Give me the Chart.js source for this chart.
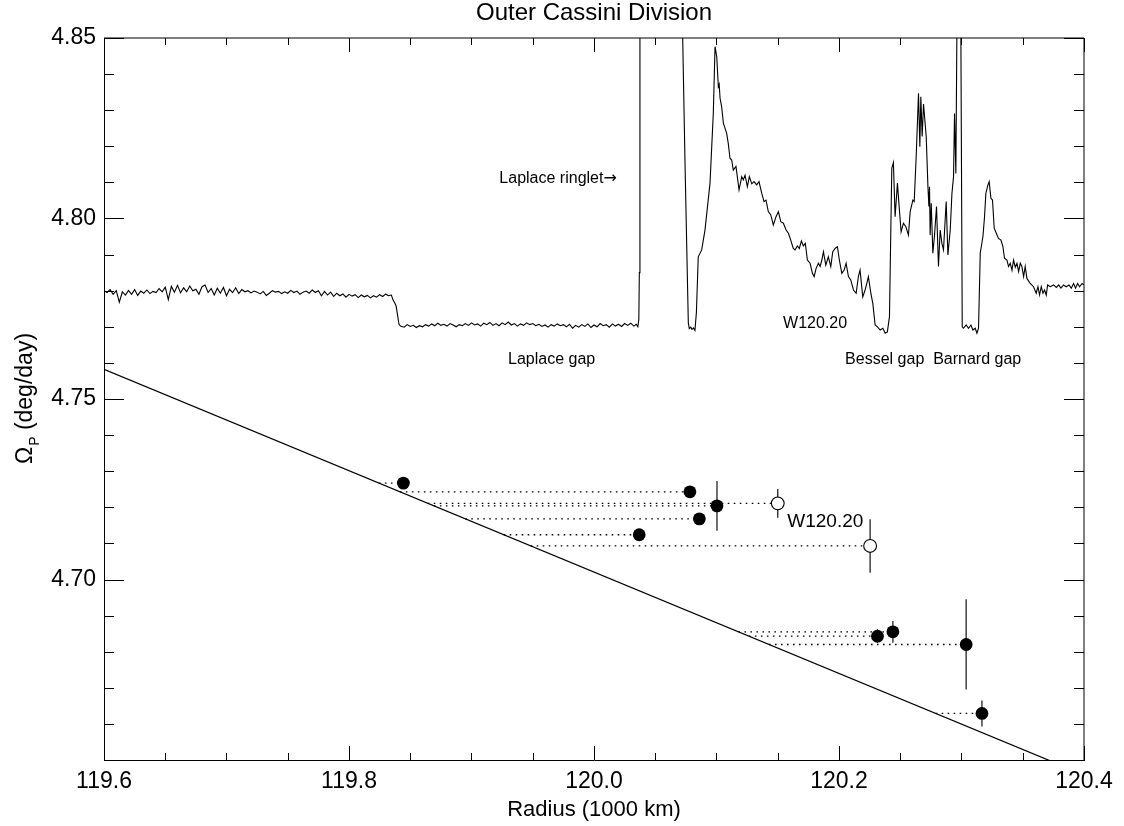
<!DOCTYPE html>
<html><head><meta charset="utf-8">
<script src="https://cdn.jsdelivr.net/npm/chart.js@4.4.1/dist/chart.umd.min.js"></script>
<style>html,body{margin:0;padding:0;background:#fff;}#wrap{width:1124px;height:826px;}</style>
</head><body><div id="wrap"><canvas id="c" width="1124" height="826"></canvas></div>
<script>
// ---------- data ----------
const xTicks = [119.6, 119.8, 120.0, 120.2, 120.4];
const yTicks = [4.70, 4.75, 4.80, 4.85];

// model pattern speed line (Omega_P vs radius)
const modelR = [119.6, 120.4];
const modelOmega = [4.7582, 4.6459];

// measured waves (filled)
const waveR     = [119.8444, 120.0783, 120.1004, 120.0860, 120.0369, 120.2314, 120.2440, 120.3038, 120.3167];
const waveOmega = [4.7267,   4.7243,   4.7204,   4.7168,   4.7124,   4.6843,   4.6855,   4.6820,   4.6629];
const waveErr   = [0.0010,   0.0010,   0.0069,   0.0010,   0.0010,   0.0019,   0.0030,   0.0125,   0.0036];

// W120.20 (open)
const w12020R     = [120.1500, 120.2254];
const w12020Omega = [4.7211,   4.7093];
const w12020Err   = [0.0040,   0.0074];

// optical-depth profile (scaled into plot units)
const profileSamples = [
[119.6000,4.7800],[119.6025,4.7795],[119.6050,4.7803],[119.6075,4.7790],[119.6100,4.7800],[119.6125,4.7768],
[119.6150,4.7797],[119.6175,4.7788],[119.6200,4.7801],[119.6225,4.7790],[119.6250,4.7803],[119.6275,4.7787],
[119.6300,4.7799],[119.6325,4.7793],[119.6350,4.7802],[119.6375,4.7792],[119.6400,4.7798],[119.6425,4.7795],
[119.6450,4.7806],[119.6475,4.7797],[119.6500,4.7810],[119.6525,4.7775],[119.6550,4.7812],[119.6575,4.7796],
[119.6600,4.7815],[119.6625,4.7794],[119.6650,4.7808],[119.6675,4.7797],[119.6700,4.7813],[119.6725,4.7800],
[119.6750,4.7804],[119.6775,4.7790],[119.6800,4.7811],[119.6825,4.7816],[119.6850,4.7795],[119.6875,4.7806],
[119.6900,4.7788],[119.6925,4.7807],[119.6950,4.7793],[119.6975,4.7809],[119.7000,4.7786],[119.7025,4.7804],
[119.7050,4.7795],[119.7075,4.7808],[119.7100,4.7792],[119.7125,4.7803],[119.7150,4.7797],[119.7175,4.7800],
[119.7200,4.7794],[119.7225,4.7799],[119.7250,4.7796],[119.7275,4.7791],[119.7300,4.7798],[119.7325,4.7787],
[119.7350,4.7793],[119.7375,4.7800],[119.7400,4.7796],[119.7425,4.7798],[119.7450,4.7792],[119.7475,4.7797],
[119.7500,4.7793],[119.7525,4.7801],[119.7550,4.7795],[119.7575,4.7799],[119.7600,4.7790],[119.7625,4.7796],
[119.7650,4.7799],[119.7675,4.7793],[119.7700,4.7802],[119.7725,4.7795],[119.7750,4.7800],[119.7775,4.7786],
[119.7800,4.7798],[119.7825,4.7788],[119.7850,4.7796],[119.7875,4.7784],[119.7900,4.7793],[119.7925,4.7786],
[119.7950,4.7791],[119.7975,4.7782],[119.8000,4.7790],[119.8025,4.7785],[119.8050,4.7789],[119.8075,4.7781],
[119.8100,4.7788],[119.8125,4.7783],[119.8150,4.7787],[119.8175,4.7780],[119.8200,4.7786],[119.8225,4.7782],
[119.8250,4.7789],[119.8275,4.7784],[119.8300,4.7791],[119.8320,4.7786],[119.8346,4.7788],[119.8360,4.7774],
[119.8375,4.7765],[119.8385,4.7757],[119.8395,4.7735],[119.8408,4.7707],[119.8420,4.7702],
[119.8450,4.7699],[119.8475,4.7706],[119.8500,4.7701],[119.8525,4.7704],[119.8550,4.7698],[119.8575,4.7703],
[119.8600,4.7700],[119.8625,4.7706],[119.8650,4.7702],[119.8675,4.7708],[119.8700,4.7703],[119.8725,4.7710],
[119.8750,4.7704],[119.8775,4.7707],[119.8800,4.7702],[119.8825,4.7709],[119.8850,4.7705],[119.8875,4.7700],
[119.8900,4.7706],[119.8925,4.7703],[119.8950,4.7709],[119.8975,4.7704],[119.9000,4.7711],[119.9025,4.7705],
[119.9050,4.7708],[119.9075,4.7702],[119.9100,4.7710],[119.9125,4.7706],[119.9150,4.7712],[119.9175,4.7704],
[119.9200,4.7709],[119.9225,4.7703],[119.9250,4.7711],[119.9275,4.7706],[119.9300,4.7713],[119.9325,4.7705],
[119.9350,4.7709],[119.9375,4.7702],[119.9400,4.7708],[119.9425,4.7704],[119.9450,4.7711],[119.9475,4.7706],
[119.9500,4.7709],[119.9525,4.7703],[119.9550,4.7707],[119.9575,4.7701],[119.9600,4.7705],[119.9625,4.7699],
[119.9650,4.7706],[119.9675,4.7702],[119.9700,4.7708],[119.9725,4.7703],[119.9750,4.7706],[119.9775,4.7700],
[119.9800,4.7707],[119.9825,4.7696],[119.9850,4.7704],[119.9875,4.7699],[119.9900,4.7706],[119.9925,4.7701],
[119.9950,4.7708],[119.9975,4.7698],[120.0000,4.7705],[120.0025,4.7700],[120.0050,4.7709],[120.0075,4.7703],
[120.0100,4.7706],[120.0125,4.7699],[120.0150,4.7708],[120.0175,4.7702],[120.0200,4.7707],[120.0225,4.7701],
[120.0250,4.7709],[120.0275,4.7704],[120.0300,4.7710],[120.0325,4.7702],[120.0345,4.7707],[120.0358,4.7700],
[120.0366,4.7720],[120.0370,4.7850],[120.0375,4.8600],[120.0380,4.9000],[120.0718,4.9000],[120.0724,4.8500],
[120.0743,4.8153],[120.0770,4.7711],[120.0778,4.7695],[120.0790,4.7699],[120.0800,4.7693],[120.0812,4.7697],
[120.0824,4.7690],[120.0836,4.7740],[120.0851,4.7894],[120.0879,4.7913],[120.0906,4.7968],[120.0947,4.8098],
[120.0974,4.8292],[120.0988,4.8476],[120.1002,4.8448],[120.1015,4.8365],[120.1022,4.8372],[120.1029,4.8333],
[120.1042,4.8310],[120.1056,4.8264],[120.1083,4.8236],[120.1096,4.8208],[120.1110,4.8167],[120.1124,4.8162],
[120.1137,4.8134],[120.1159,4.8144],[120.1184,4.8079],[120.1206,4.8116],[120.1219,4.8107],[120.1233,4.8120],
[120.1252,4.8088],[120.1268,4.8116],[120.1288,4.8096],[120.1306,4.8102],[120.1328,4.8093],[120.1347,4.8102],
[120.1369,4.8070],[120.1388,4.8047],[120.1404,4.8051],[120.1423,4.8019],[120.1443,4.8010],[120.1464,4.7982],
[120.1486,4.8005],[120.1505,4.8019],[120.1525,4.7991],[120.1546,4.7987],[120.1568,4.7968],[120.1587,4.7959],
[120.1606,4.7940],[120.1627,4.7917],[120.1641,4.7913],[120.1660,4.7924],[120.1676,4.7917],[120.1693,4.7938],
[120.1709,4.7924],[120.1725,4.7931],[120.1742,4.7885],[120.1764,4.7876],[120.1783,4.7848],[120.1797,4.7839],
[120.1813,4.7862],[120.1832,4.7876],[120.1846,4.7867],[120.1860,4.7885],[120.1873,4.7908],[120.1892,4.7871],
[120.1913,4.7894],[120.1933,4.7867],[120.1949,4.7908],[120.1968,4.7917],[120.1987,4.7922],[120.2003,4.7885],
[120.2023,4.7848],[120.2042,4.7857],[120.2058,4.7876],[120.2077,4.7839],[120.2096,4.7830],[120.2118,4.7802],
[120.2140,4.7793],[120.2158,4.7839],[120.2172,4.7857],[120.2194,4.7783],[120.2213,4.7802],[120.2227,4.7820],
[120.2240,4.7839],[120.2260,4.7793],[120.2276,4.7765],[120.2295,4.7705],[120.2314,4.7700],[120.2336,4.7691],
[120.2358,4.7696],[120.2377,4.7682],[120.2395,4.7686],[120.2412,4.7728],[120.2423,4.7968],[120.2431,4.8139],
[120.2444,4.8155],[120.2458,4.8005],[120.2477,4.8098],[120.2493,4.8024],[120.2507,4.7963],[120.2526,4.7987],
[120.2546,4.7977],[120.2567,4.7954],[120.2581,4.8019],[120.2603,4.8051],[120.2614,4.8047],[120.2630,4.8171],
[120.2649,4.8347],[120.2660,4.8199],[120.2668,4.8337],[120.2679,4.8227],[120.2690,4.8317],[120.2712,4.8227],
[120.2726,4.8088],[120.2734,4.8033],[120.2739,4.8088],[120.2744,4.7954],[120.2753,4.8042],[120.2766,4.7904],
[120.2779,4.7950],[120.2796,4.8033],[120.2812,4.7867],[120.2826,4.7968],[120.2840,4.7931],[120.2853,4.7913],
[120.2875,4.8047],[120.2889,4.7899],[120.2908,4.7968],[120.2922,4.8070],[120.2935,4.8116],[120.2943,4.8291],
[120.2954,4.8125],[120.2962,4.8500],[120.2966,4.9000],[120.2992,4.9000],[120.2995,4.8500],[120.3006,4.7700],
[120.3016,4.7696],[120.3038,4.7705],[120.3057,4.7696],[120.3077,4.7705],[120.3093,4.7691],[120.3112,4.7696],
[120.3126,4.7682],[120.3139,4.7696],[120.3153,4.7904],[120.3175,4.7950],[120.3188,4.8005],[120.3199,4.8070],
[120.3216,4.8093],[120.3226,4.8102],[120.3240,4.8056],[120.3253,4.8051],[120.3267,4.7973],[120.3284,4.7959],
[120.3302,4.7945],[120.3322,4.7940],[120.3338,4.7922],[120.3351,4.7890],[120.3371,4.7885],[120.3384,4.7867],
[120.3398,4.7876],[120.3412,4.7857],[120.3425,4.7885],[120.3439,4.7865],[120.3453,4.7876],[120.3466,4.7853],
[120.3480,4.7876],[120.3493,4.7867],[120.3507,4.7839],[120.3520,4.7867],[120.3534,4.7834],[120.3561,4.7820],
[120.3588,4.7811],[120.3610,4.7793],[120.3624,4.7811],[120.3637,4.7788],[120.3651,4.7811],[120.3665,4.7793],
[120.3678,4.7802],[120.3692,4.7788],[120.3703,4.7816],[120.3725,4.7811],[120.3752,4.7816],[120.3774,4.7809],
[120.3793,4.7816],[120.3812,4.7807],[120.3833,4.7816],[120.3855,4.7811],[120.3877,4.7816],[120.3896,4.7807],
[120.3915,4.7820],[120.3931,4.7807],[120.3948,4.7820],[120.3964,4.7811],[120.3984,4.7820],[120.4000,4.7816]
];

// text annotations (radius, Omega anchor)
const noteText  = ['Laplace ringlet\u2192', 'Laplace gap', 'W120.20', 'Bessel gap', 'Barnard gap', 'W120.20'];
const noteR     = [119.9707, 119.9654, 120.1805, 120.2373, 120.3128, 120.1578];
const noteOmega = [4.8098,   4.7597,   4.7698,   4.7597,   4.7597,   4.7146];

// ---------- build ----------
const FONT = "'Liberation Sans', Arial, Helvetica, sans-serif";
Chart.defaults.font.family = FONT;
Chart.defaults.color = '#000';

const slope = (modelOmega[1]-modelOmega[0])/(modelR[1]-modelR[0]);
function modelRAt(om){ return modelR[0] + (om - modelOmega[0])/slope; }

const connectors = [];
waveR.forEach((r,i)=>connectors.push([r, waveOmega[i]]));
w12020R.forEach((r,i)=>connectors.push([r, w12020Omega[i]]));
const connectorSets = connectors.map(([r,om])=>({
  type:'scatter', showLine:true, data:[{x:modelRAt(om),y:om},{x:r,y:om}],
  borderColor:'#000', borderWidth:1.3, borderDash:[1.6,4.4], pointRadius:0, fill:false
}));

const errorBars = {
  id:'errorBars',
  beforeDatasetsDraw(chart){
    const {ctx, scales:{x,y}} = chart;
    ctx.save(); ctx.strokeStyle='#222'; ctx.lineWidth=1.3;
    const draw=(R,O,E)=>R.forEach((r,i)=>{
      const px=x.getPixelForValue(r);
      ctx.beginPath(); ctx.moveTo(px,y.getPixelForValue(O[i]-E[i])); ctx.lineTo(px,y.getPixelForValue(O[i]+E[i])); ctx.stroke();
    });
    draw(waveR,waveOmega,waveErr); draw(w12020R,w12020Omega,w12020Err);
    ctx.restore();
  }
};

const frameTicks = {
  id:'frameTicks',
  afterDraw(chart){
    const {ctx, chartArea:a, scales:{x,y}} = chart;
    ctx.save(); ctx.strokeStyle='#000'; ctx.lineWidth=1;
    ctx.beginPath();
    ctx.moveTo(a.left,a.top); ctx.lineTo(a.right,a.top); ctx.lineTo(a.right,a.bottom);
    ctx.stroke();
    ctx.beginPath();
    for(let i=0;i<=16;i++){
      const v=xTicks[0]+i*0.05, px=Math.round(x.getPixelForValue(v))+0.5, len=(i%4===0)?14:7;
      ctx.moveTo(px,a.bottom); ctx.lineTo(px,a.bottom-len);
      ctx.moveTo(px,a.top); ctx.lineTo(px,a.top+len);
    }
    for(let i=0;i<=20;i++){
      const v=4.65+i*0.01, py=Math.round(y.getPixelForValue(v))+0.5, len=(i%5===0)?20:10;
      ctx.moveTo(a.left,py); ctx.lineTo(a.left+len,py);
      ctx.moveTo(a.right,py); ctx.lineTo(a.right-len,py);
    }
    ctx.stroke();
    // y-axis title with subscript
    const cy=(a.top+a.bottom)/2;
    ctx.translate(32,cy); ctx.rotate(-Math.PI/2); ctx.fillStyle='#000'; ctx.textBaseline='alphabetic';
    const big='23px '+FONT, small='14px '+FONT;
    ctx.font=big; const w1=ctx.measureText('\u03A9').width, w3=ctx.measureText(' (deg/day)').width;
    ctx.font=small; const w2=ctx.measureText('P').width;
    let x0=-(w1+w2+w3)/2;
    ctx.font=big; ctx.fillText('\u03A9',x0,0);
    ctx.font=small; ctx.fillText('P',x0+w1+1,7);
    ctx.font=big; ctx.fillText(' (deg/day)',x0+w1+w2+1,0);
    ctx.restore();
  }
};

const notes = {
  id:'notes',
  afterDatasetsDraw(chart){
    const {ctx, scales:{x,y}} = chart;
    ctx.save(); ctx.fillStyle='#000'; ctx.textBaseline='alphabetic';
    noteText.forEach((t,i)=>{
      const last = i===noteText.length-1;
      const f=(last?'19px ':'16px ')+FONT;
      const px=x.getPixelForValue(noteR[i]), py=y.getPixelForValue(noteOmega[i]);
      if(t.endsWith('\u2192')){
        const main=t.slice(0,-1);
        ctx.font=f; const wm=ctx.measureText(main).width;
        const af="16px 'DejaVu Sans', sans-serif";
        ctx.font=af; const wa=ctx.measureText('\u2192').width;
        const left=px-(wm+wa)/2;
        ctx.textAlign='left';
        ctx.font=f; ctx.fillText(main,left,py);
        ctx.font=af; ctx.fillText('\u2192',left+wm,py);
      } else {
        ctx.font=f;
        ctx.textAlign= last?'left':'center';
        ctx.fillText(t, px, py);
      }
    });
    ctx.restore();
  }
};

new Chart(document.getElementById('c'), {
  type:'scatter',
  data:{datasets:[
    {label:'waves', data:waveR.map((r,i)=>({x:r,y:waveOmega[i]})), pointRadius:6.4, pointBackgroundColor:'#000', pointBorderWidth:0, showLine:false},
    {label:'W120.20', data:w12020R.map((r,i)=>({x:r,y:w12020Omega[i]})), pointRadius:6.4, pointBackgroundColor:'#fff', pointBorderColor:'#000', pointBorderWidth:1.1, showLine:false},
    {label:'model', data:modelR.map((r,i)=>({x:r,y:modelOmega[i]})), showLine:true, borderColor:'#000', borderWidth:1.2, pointRadius:0},
    {label:'profile', data:profileSamples.map(([r,o])=>({x:r,y:o})), showLine:true, borderColor:'#000', borderWidth:1.1, pointRadius:0, tension:0},
    ...connectorSets
  ]},
  options:{
    responsive:false, animation:false, devicePixelRatio: window.devicePixelRatio||1,
    layout:{padding:{left:0,right:40,top:0,bottom:0}},
    plugins:{
      legend:{display:false}, tooltip:{enabled:false},
      title:{display:true, text:'Outer Cassini Division', fullSize:false, color:'#000',
        font:{size:24, weight:'normal', lineHeight:1.0}, padding:{top:1,bottom:13}}
    },
    scales:{
      x:{type:'linear', position:'bottom', min:119.6, max:120.4,
        afterBuildTicks:s=>{s.ticks=xTicks.map(v=>({value:v}));},
        afterFit:s=>{s.height=66;},
        ticks:{callback:v=>Number(v).toFixed(1), font:{size:23}, color:'#000', padding:8, maxRotation:0, autoSkip:false},
        grid:{display:false, drawTicks:false},
        border:{display:true, color:'#000', width:1},
        title:{display:true, text:'Radius (1000 km)', font:{size:22}, color:'#000', padding:{top:0,bottom:3}}
      },
      y:{type:'linear', position:'left', min:4.65, max:4.85,
        afterBuildTicks:s=>{s.ticks=yTicks.map(v=>({value:v}));},
        afterFit:s=>{s.width=104;},
        ticks:{callback:v=>Number(v).toFixed(2), font:{size:23}, color:'#000', padding:8},
        grid:{display:false, drawTicks:false},
        border:{display:true, color:'#000', width:1}
      }
    }
  },
  plugins:[errorBars, frameTicks, notes]
});
</script></body></html>
